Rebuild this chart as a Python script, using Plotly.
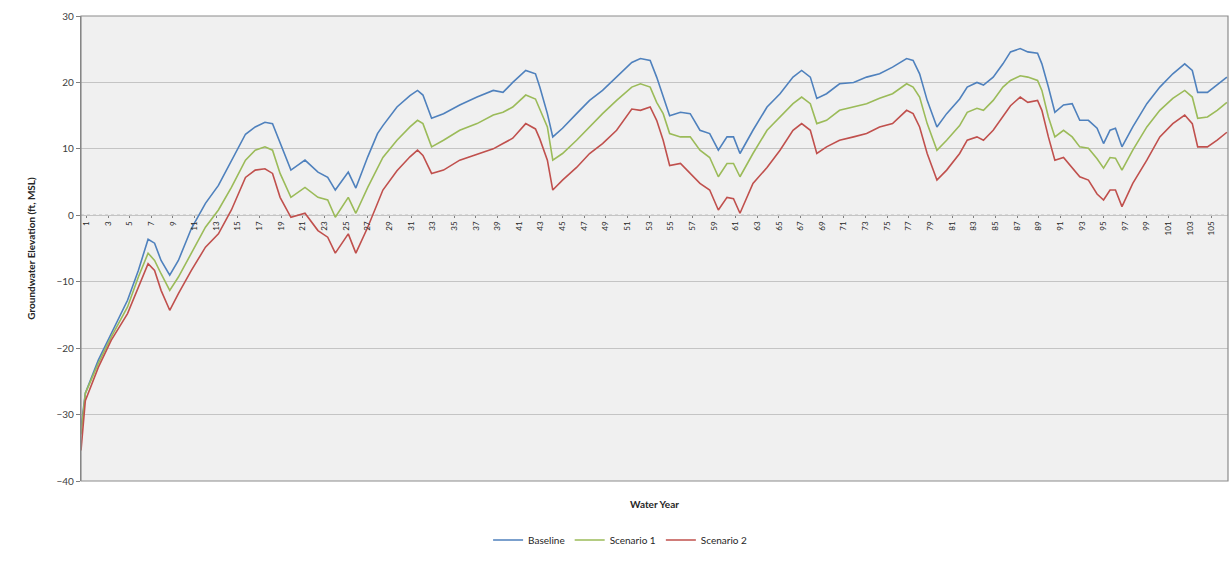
import plotly.graph_objects as go

# water year position of each reading (category axis, 1..106)
water_year = [
    0.5, 0.9, 2.1, 3.3, 4.8, 5.8, 6.7, 7.3, 7.9, 8.7, 9.5, 10.7, 12.0, 13.2, 14.4,
    15.7, 16.6, 17.5, 18.2, 18.9, 19.9, 21.2, 22.4, 23.3, 24.0, 25.2, 25.9, 27.0, 27.9,
    28.4, 29.7, 30.9, 31.6, 32.1, 32.9, 34.0, 35.5, 37.1, 38.6, 39.5, 40.4, 41.6, 42.5,
    42.9, 43.6, 44.1, 45.0, 46.3, 47.5, 48.7, 50.0, 51.4, 52.2, 53.1, 53.7, 54.3, 54.9,
    55.9, 56.8, 57.7, 58.6, 59.4, 60.2, 60.8, 61.4, 62.6, 63.9, 65.1, 66.3, 67.1, 67.9,
    68.5, 69.4, 70.6, 71.9, 73.1, 74.3, 75.5, 76.8, 77.4, 78.0, 78.7, 79.6, 80.5, 81.7,
    82.4, 83.3, 83.9, 84.8, 85.7, 86.4, 87.3, 88.0, 88.9, 89.3, 89.9, 90.5, 91.3, 92.1,
    92.8, 93.6, 94.4, 95.0, 95.6, 96.1, 96.7, 97.7, 99.0, 100.2, 101.4, 102.5, 103.2,
    103.7, 104.6, 105.5, 106.4,
]

baseline = [
    -32.0, -26.8, -21.8, -17.8, -12.8, -8.3, -3.6, -4.2, -6.8, -9.0, -6.8, -2.0, 1.8, 4.5, 8.2,
    12.2, 13.3, 14.0, 13.8, 10.8, 6.8, 8.3, 6.5, 5.7, 3.8, 6.5, 4.1, 8.8, 12.3,
    13.5, 16.3, 18.0, 18.8, 18.1, 14.6, 15.3, 16.6, 17.8, 18.8, 18.5, 20.0, 21.8, 21.3,
    19.3, 15.3, 11.8, 13.1, 15.3, 17.3, 18.8, 20.8, 23.0, 23.6, 23.3, 20.8, 17.8, 15.0,
    15.5, 15.3, 12.8, 12.3, 9.8, 11.8, 11.8, 9.3, 12.8, 16.3, 18.3, 20.8, 21.8, 20.8,
    17.6, 18.3, 19.8, 20.0, 20.8, 21.3, 22.3, 23.6, 23.3, 21.3, 17.3, 13.3, 15.3, 17.5,
    19.3, 20.0, 19.6, 20.8, 22.8, 24.6, 25.1, 24.6, 24.4, 22.8, 19.3, 15.5, 16.6, 16.8,
    14.3, 14.3, 13.1, 10.8, 12.8, 13.1, 10.3, 13.3, 16.8, 19.3, 21.3, 22.8, 21.8,
    18.5, 18.5, 19.6, 20.8,
]

scenario_1 = [
    -33.0, -26.8, -22.3, -18.3, -13.8, -9.3, -5.7, -6.8, -8.8, -11.3, -9.3, -5.7, -1.8, 0.8, 4.2,
    8.3, 9.8, 10.3, 9.8, 6.3, 2.7, 4.2, 2.7, 2.3, -0.3, 2.7, 0.3, 4.2, 7.2,
    8.7, 11.3, 13.3, 14.3, 13.8, 10.3, 11.3, 12.8, 13.8, 15.1, 15.5, 16.3, 18.1, 17.5,
    16.0, 13.3, 8.3, 9.3, 11.3, 13.3, 15.3, 17.3, 19.3, 19.8, 19.3, 17.0, 15.3, 12.3,
    11.8, 11.8, 9.8, 8.7, 5.8, 7.8, 7.8, 5.8, 9.3, 12.8, 14.8, 16.8, 17.8, 16.8,
    13.8, 14.3, 15.8, 16.3, 16.8, 17.6, 18.3, 19.8, 19.3, 17.8, 13.8, 9.8, 11.3, 13.5,
    15.5, 16.1, 15.8, 17.3, 19.3, 20.3, 21.0, 20.8, 20.3, 18.8, 14.8, 11.8, 12.8, 11.8,
    10.3, 10.1, 8.5, 7.1, 8.7, 8.6, 6.8, 9.8, 13.3, 15.8, 17.6, 18.8, 17.8,
    14.6, 14.8, 15.8, 17.0,
]

scenario_2 = [
    -35.4, -27.9, -22.9, -18.8, -14.8, -10.8, -7.3, -8.3, -11.3, -14.3, -11.8, -8.3, -4.8, -2.8, 0.8,
    5.7, 6.8, 7.0, 6.3, 2.7, -0.3, 0.3, -2.3, -3.3, -5.7, -2.8, -5.7, -1.8, 1.8,
    3.8, 6.7, 8.8, 9.8, 9.0, 6.3, 6.8, 8.3, 9.2, 10.0, 10.8, 11.6, 13.8, 13.0,
    11.5, 8.3, 3.8, 5.3, 7.2, 9.3, 10.8, 12.8, 16.0, 15.8, 16.3, 14.3, 11.3, 7.5,
    7.8, 6.3, 4.8, 3.8, 0.8, 2.7, 2.5, 0.3, 4.8, 7.2, 9.8, 12.8, 13.8, 12.8,
    9.3, 10.3, 11.3, 11.8, 12.3, 13.3, 13.8, 15.8, 15.3, 13.3, 9.3, 5.3, 6.8, 9.3,
    11.3, 11.8, 11.3, 12.8, 14.8, 16.5, 17.8, 17.0, 17.3, 15.8, 11.8, 8.3, 8.7, 7.2,
    5.8, 5.3, 3.2, 2.3, 3.8, 3.8, 1.3, 4.8, 8.3, 11.8, 13.8, 15.1, 13.8,
    10.3, 10.3, 11.3, 12.5,
]

year_ticks = list(range(1, 107, 2))
y_ticks = [-40, -30, -20, -10, 0, 10, 20, 30]

series = [
    ("Baseline", baseline, "#4f81bd"),
    ("Scenario 1", scenario_1, "#9bbb59"),
    ("Scenario 2", scenario_2, "#c0504d"),
]

fig = go.Figure()
for name, values, color in series:
    fig.add_trace(go.Scatter(x=water_year, y=values, mode="lines", name=name,
                             line={"color": color, "width": 1.6}))

# category axis sits on the zero line, as in the Excel original
zero_pos = (0 - y_ticks[0]) / (y_ticks[-1] - y_ticks[0])
fig.add_shape(type="line", xref="paper", yref="y", x0=0, x1=1, y0=0, y1=0,
              line={"color": "#7f7f7f", "width": 1, "dash": "dot"}, layer="below")
fig.add_shape(type="rect", xref="paper", yref="paper", x0=0, x1=1, y0=0, y1=1,
              line={"color": "#8c8c8c", "width": 1.2})

fig.update_layout(
    width=1231, height=571,
    margin={"l": 81, "r": 3, "t": 16, "b": 90, "autoexpand": False},
    paper_bgcolor="white", plot_bgcolor="#f0f0f0",
    font={"family": "Lato, Liberation Sans, sans-serif", "color": "#404040"},
    showlegend=True,
    legend={"orientation": "h", "x": 0.47, "xanchor": "center", "y": -0.127, "yanchor": "middle",
            "font": {"size": 10, "color": "#262626"}, "itemwidth": 30},
    annotations=[{"text": "<b>Water Year</b>", "xref": "paper", "yref": "paper", "x": 0.5, "y": -0.032,
                  "yanchor": "top", "showarrow": False, "font": {"size": 10, "color": "#262626"}}],
)
fig.update_xaxes(
    range=[0.5, 106.5], tickmode="array", tickvals=year_ticks, ticktext=[str(v) for v in year_ticks],
    tickangle=-90, tickfont={"size": 8, "color": "#262626"}, anchor="free", position=zero_pos,
    showgrid=False, zeroline=False, showline=False, ticks="outside", ticklen=2, tickcolor="#7f7f7f",
    automargin=False,
)
fig.update_yaxes(
    range=[-40, 30], tickvals=y_ticks, tickfont={"size": 10, "color": "#404040"},
    showgrid=True, gridcolor="#c4c4c4", gridwidth=1, zeroline=False, automargin=False,
    showline=True, linecolor="#7f7f7f", linewidth=1.2, ticks="outside", ticklen=4, tickcolor="#7f7f7f",
    title={"text": "<b>Groundwater Elevation (ft, MSL)</b>", "font": {"size": 10, "color": "#262626"},
           "standoff": 18},
)

# drop the browser's default body margin so the figure sits at the page corner
fig.write_html("out.html", config={"displayModeBar": False},
               post_script="document.body.style.margin='0';")
